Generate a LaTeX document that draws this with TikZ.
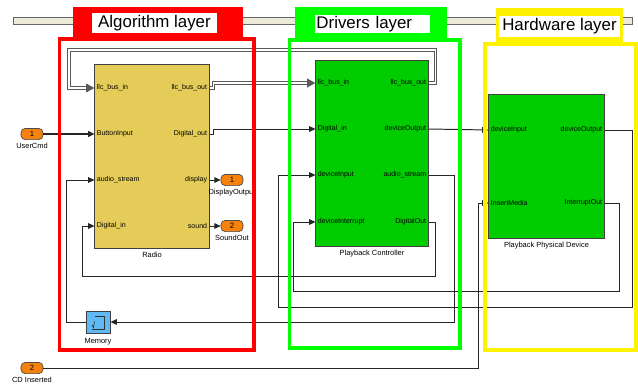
\documentclass[tikz,border=0pt]{standalone}
\usepackage{fontspec}
\setmainfont{Liberation Sans}
\usetikzlibrary{arrows.meta,positioning,calc}

\definecolor{radioyel}{RGB}{229,204,88}
\definecolor{slgreen}{RGB}{0,204,0}
\definecolor{memblue}{RGB}{95,185,245}
\definecolor{portorange}{RGB}{245,130,10}
\definecolor{barbeige}{RGB}{236,233,216}

\begin{document}
\begin{tikzpicture}[
  x=0.025cm, y=-0.025cm,
  every node/.style={inner sep=0pt, font=\fontsize{5}{6}\selectfont},
  blk/.style={draw=black!75, line width=.7pt},
  portlbl/.style={font=\fontsize{5}{5}\selectfont},
  blklbl/.style={font=\fontsize{5.3}{6}\selectfont},
  ioport/.style={draw=black!70, fill=portorange, rounded corners=3pt,
    minimum width=.55cm, minimum height=.28cm, line width=.5pt,
    font=\fontsize{5.5}{6}\selectfont},
  sig/.style={draw=black!85, line width=.7pt, -{Triangle[length=4.5pt,width=4pt]}},
  bus/.style={draw=white, line width=.8pt, shorten >=6pt,
    preaction={draw=black!65, line width=2.2pt, shorten >=0pt,
      -{Triangle[length=6pt,width=6pt]}}},
  layer/.style={line width=2.8pt},
  tabtext/.style={fill=white, font=\fontsize{12}{14}\selectfont}
]
\useasboundingbox (0,0) rectangle (638,388);
\draw[black!60, fill=barbeige, line width=.5pt] (13,17) rectangle (632,24);

% blocks
\node[blk, fill=radioyel, minimum width=2.85cm, minimum height=4.575cm] (radio) at (152,156.5) {};
\node[blk, fill=slgreen, minimum width=2.8cm, minimum height=4.625cm] (pbc) at (372,153.5) {};
\node[blk, fill=slgreen, minimum width=2.875cm, minimum height=3.575cm] (phd) at (546.5,166.5) {};
\node[blk, fill=memblue, minimum width=.6cm, minimum height=.55cm] (mem) at (98,322) {};
\draw[black!80, line width=.5pt] ([shift={(-3,-6)}]mem.center) -- ++(9,0) -- ++(0,13) -- ++(-12,0);
\draw[black!80, line width=.5pt] ([shift={(-6,3)}]mem.center) -- ++(1.5,2.5) -- ++(1,-6);

\node[blklbl, below=2pt of radio] (radio-l) {Radio};
\node[blklbl, below=2pt of pbc] (pbc-l) {Playback Controller};
\node[blklbl, below=2.5pt of phd] (phd-l) {Playback Physical Device};
\node[blklbl, below=3pt of mem] (mem-l) {Memory};

% ports
\foreach \blk/\pn/\py/\pt in {radio/rbi/88/llc\_bus\_in, radio/rbt/134/ButtonInput,
    radio/ras/180/audio\_stream, radio/rdi/226/Digital\_in,
    pbc/pbi/83/llc\_bus\_in, pbc/pdi/129/Digital\_in,
    pbc/pdv/175/deviceInput, pbc/pdx/222/deviceInterrupt,
    phd/hdi/130/deviceInput, phd/him/203/InsertMedia}{
  \coordinate (\pn) at (\blk.west |- 0,\py);
  \node[portlbl, anchor=west] (\pn-t) at ([xshift=1.5pt]\pn) {\pt};
}
\foreach \blk/\pn/\py/\pt in {radio/rbo/88/llc\_bus\_out, radio/rdo/134/Digital\_out,
    radio/rds/180/display, radio/rsd/226/sound,
    pbc/pbo/83/llc\_bus\_out, pbc/pdo/129/deviceOutput,
    pbc/pas/175/audio\_stream, pbc/pdt/222/DigitalOut,
    phd/hdo/130/deviceOutput, phd/hio/203/InterruptOut}{
  \coordinate (\pn) at (\blk.east |- 0,\py);
  \node[portlbl, anchor=east] (\pn-t) at ([xshift=-1.5pt]\pn) {\pt};
}

% in- and outports
\node[ioport] (ucmd) at (32,134) {1};
\node[blklbl, below=2pt of ucmd] (ucmd-l) {UserCmd};
\node[ioport] (dout) at (232,180) {1};
\node[blklbl, below=2pt of dout] (dout-l) {DisplayOutput};
\node[ioport] (sout) at (232,226) {2};
\node[blklbl, below=2pt of sout] (sout-l) {SoundOut};
\node[ioport] (cdin) at (32,368) {2};
\node[blklbl, below=2pt of cdin] (cdin-l) {CD Inserted};

\coordinate (bustop) at (69,50);
\coordinate (outlow) at (278,307);
\coordinate (dinlow) at (82,276);
\coordinate (intlow) at (293,291);
\coordinate (cdturn) at (478,368);

% connections
\draw[sig, line width=1.5pt] (ucmd) -- (rbt);
\draw[sig] (rds) -- (dout);
\draw[sig] (rsd) -- (sout);
\draw[bus] (rbo) -- ++(4,0) |- (pbi);
\draw[sig] (rdo) -- ++(4,0) |- (pdi);
\draw[bus] (pbo) -- ++(7,0) |- (bustop) |- (rbi);
\draw[sig] (pdo) -- (hdi);
\draw[sig] (hdo) -- ++(28,0) |- (outlow) |- (pdv);
\draw[sig] (pas) -- ++(26,0) |- (mem);
\draw[sig] (mem.west) -- ++(-19,0) |- (ras);
\draw[sig] (pdt) -- ++(7,0) |- (dinlow) |- (rdi);
\draw[sig] (hio) -- ++(15,0) |- (intlow) |- (pdx);
\draw[sig] (cdin) -- (cdturn) |- (him);

% layer frames on top
\draw[layer, red] (59.5,39) rectangle (254,350);
\fill[red] (73,7) rectangle (243,37);
\node[tabtext, minimum width=3.125cm, minimum height=.5cm] (alg-t) at (154.5,23) {Algorithm layer};
\draw[layer, green] (289.5,40) rectangle (460,348);
\fill[green] (295,7) rectangle (447,40);
\node[tabtext, minimum height=.45cm, text width=2.8cm, inner xsep=1pt, align=left] (drv-t) at (372.5,24) {Drivers layer};
\draw[layer, yellow] (485,44) rectangle (636,350);
\fill[yellow] (496,8) rectangle (623,43);
\node[tabtext, minimum width=3.025cm, minimum height=.525cm] (hw-t) at (559.5,26.5) {Hardware layer};
\end{tikzpicture}
\end{document}
